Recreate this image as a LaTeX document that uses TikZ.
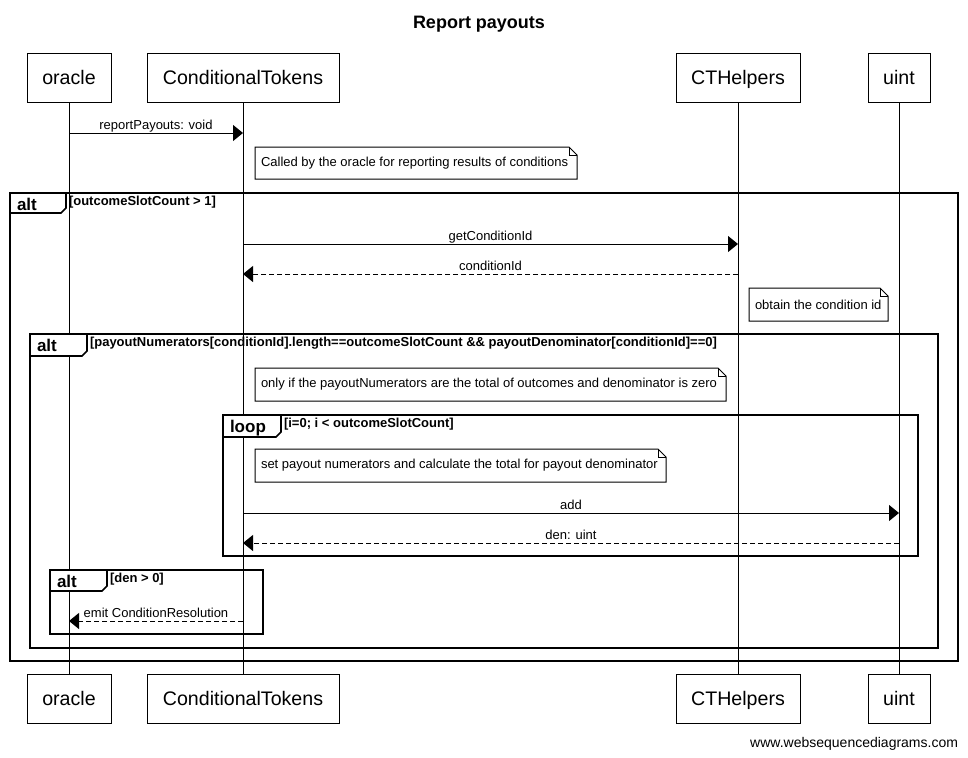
\documentclass[tikz,border=0pt]{standalone}
\usepackage{fontspec}
\setmainfont{Liberation Sans}
\usetikzlibrary{arrows.meta}

% note with a folded top-right corner: #1=x1, #2=y1, #3=x2, #4=y2, #5=name, #6=text
\newcommand\drawnote[6]{%
  \draw[notebox] (#1,#2) -- ({#3-8},#2) -- (#3,{#2+8}) -- (#3,#4) -- (#1,#4) -- cycle;
  \draw[line width=1pt] ({#3-8},#2) -- ({#3-8},{#2+8}) -- (#3,{#2+8});
  \node[notetext] (#5) at ({#1+6},{(#2+#4)/2}) {#6};
}

% combined fragment: #1=x1, #2=y1, #3=x2, #4=y2, #5=tab right, #6=tab bottom,
% #7=name, #8=operator, #9=guard
\newcommand\drawfragment[9]{%
  \draw[fragline] (#1,#2) rectangle (#3,#4);
  \draw[fragline, fill=white] (#1,#2) -- (#5,#2) -- (#5,{#6-5}) -- ({#5-5},#6) -- (#1,#6) -- cycle;
  \node[fragop] (#7op) at ({#1+7},{#2+17}) {#8};
  \node[guard] (#7guard) at ({#5+3},{#2+12}) {#9};
}

\begin{document}
\begin{tikzpicture}[x=1pt,y=-1pt,
  every node/.style={inner sep=0pt, outer sep=0pt},
  part/.style={draw, line width=1pt, fill=white, minimum height=49pt,
    text height=13pt, text depth=0pt,
    font=\fontsize{19.6}{22}\selectfont},
  life/.style={line width=1pt},
  msg/.style={line width=1pt, -{Triangle[length=10pt,width=16pt]}},
  reply/.style={msg, dash pattern=on 5pt off 3pt},
  msglabel/.style={anchor=base, font=\fontsize{13}{15}\selectfont},
  notebox/.style={draw, line width=1pt, fill=white},
  notetext/.style={anchor=west, font=\fontsize{13}{15}\selectfont},
  fragline/.style={draw, line width=1.7pt},
  fragop/.style={anchor=base west, font=\bfseries\fontsize{17}{19}\selectfont},
  guard/.style={anchor=base west, font=\bfseries\fontsize{13}{15}\selectfont},
]
\useasboundingbox (0,0) rectangle (968,757);

% title
\node[anchor=base, font=\bfseries\fontsize{18}{21}\selectfont] (title) at (479,28.5) {Report payouts};

% participants, top and bottom
\node[part, minimum width=84pt]  (oracleT) at (69,78.5)  {oracle};
\node[part, minimum width=192pt] (ctT)     at (243,78.5) {ConditionalTokens};
\node[part, minimum width=124pt] (helpT)   at (738,78.5) {CTHelpers};
\node[part, minimum width=62pt]  (uintT)   at (899,78.5) {uint};
\node[part, minimum width=84pt]  (oracleB) at (69,698.5)  {oracle};
\node[part, minimum width=192pt] (ctB)     at (243,698.5) {ConditionalTokens};
\node[part, minimum width=124pt] (helpB)   at (738,698.5) {CTHelpers};
\node[part, minimum width=62pt]  (uintB)   at (899,698.5) {uint};

% lifelines
\draw[life] (oracleT.south) -- (oracleB.north);
\draw[life] (ctT.south) -- (ctB.north);
\draw[life] (helpT.south) -- (helpB.north);
\draw[life] (uintT.south) -- (uintB.north);

% combined fragments
\drawfragment{10}{193}{958}{661}{66}{213}{outer}{alt}{[outcomeSlotCount > 1]}
\drawfragment{30}{334}{938}{648}{87}{356}{check}{alt}{[payoutNumerators[conditionId].length==outcomeSlotCount \&\& payoutDenominator[conditionId]==0]}
\drawfragment{223}{415}{918}{556}{281}{437}{loop}{loop}{[i=0; i < outcomeSlotCount]}
\drawfragment{50}{570}{263}{634}{107}{591}{den}{alt}{[den > 0]}

% notes
\drawnote{255}{147}{577}{179}{note1}{Called by the oracle for reporting results of conditions}
\drawnote{749}{288}{888}{321}{note2}{obtain the condition id}
\drawnote{255}{368}{726}{401}{note3}{only if the payoutNumerators are the total of outcomes and denominator is zero}
\drawnote{255}{449}{666}{482}{note4}{set payout numerators and calculate the total for payout denominator}

% message end points on the lifelines
\coordinate (o1) at (69,133);   \coordinate (c1) at (243,133);
\coordinate (c2) at (243,244);  \coordinate (h2) at (738,244);
\coordinate (h3) at (738,274);  \coordinate (c3) at (243,274);
\coordinate (c4) at (243,513);  \coordinate (u4) at (899,513);
\coordinate (u5) at (899,543);  \coordinate (c5) at (243,543);
\coordinate (c6) at (243,621);  \coordinate (o6) at (69,621);

% messages
\draw[msg] (o1) -- (c1);
\node[msglabel] (l1) at (156,129) {reportPayouts: void};
\draw[msg] (c2) -- (h2);
\node[msglabel] (l2) at (490.5,240) {getConditionId};
\draw[reply] (h3) -- (c3);
\node[msglabel] (l3) at (490.5,270) {conditionId};
\draw[msg] (c4) -- (u4);
\node[msglabel] (l4) at (571,509) {add};
\draw[reply] (u5) -- (c5);
\node[msglabel] (l5) at (571,539) {den: uint};
\draw[reply] (c6) -- (o6);
\node[msglabel] (l6) at (156,617) {emit ConditionResolution};

% footer
\node[anchor=base east, font=\fontsize{14}{16}\selectfont] (site) at (958,747) {www.websequencediagrams.com};
\end{tikzpicture}
\end{document}
